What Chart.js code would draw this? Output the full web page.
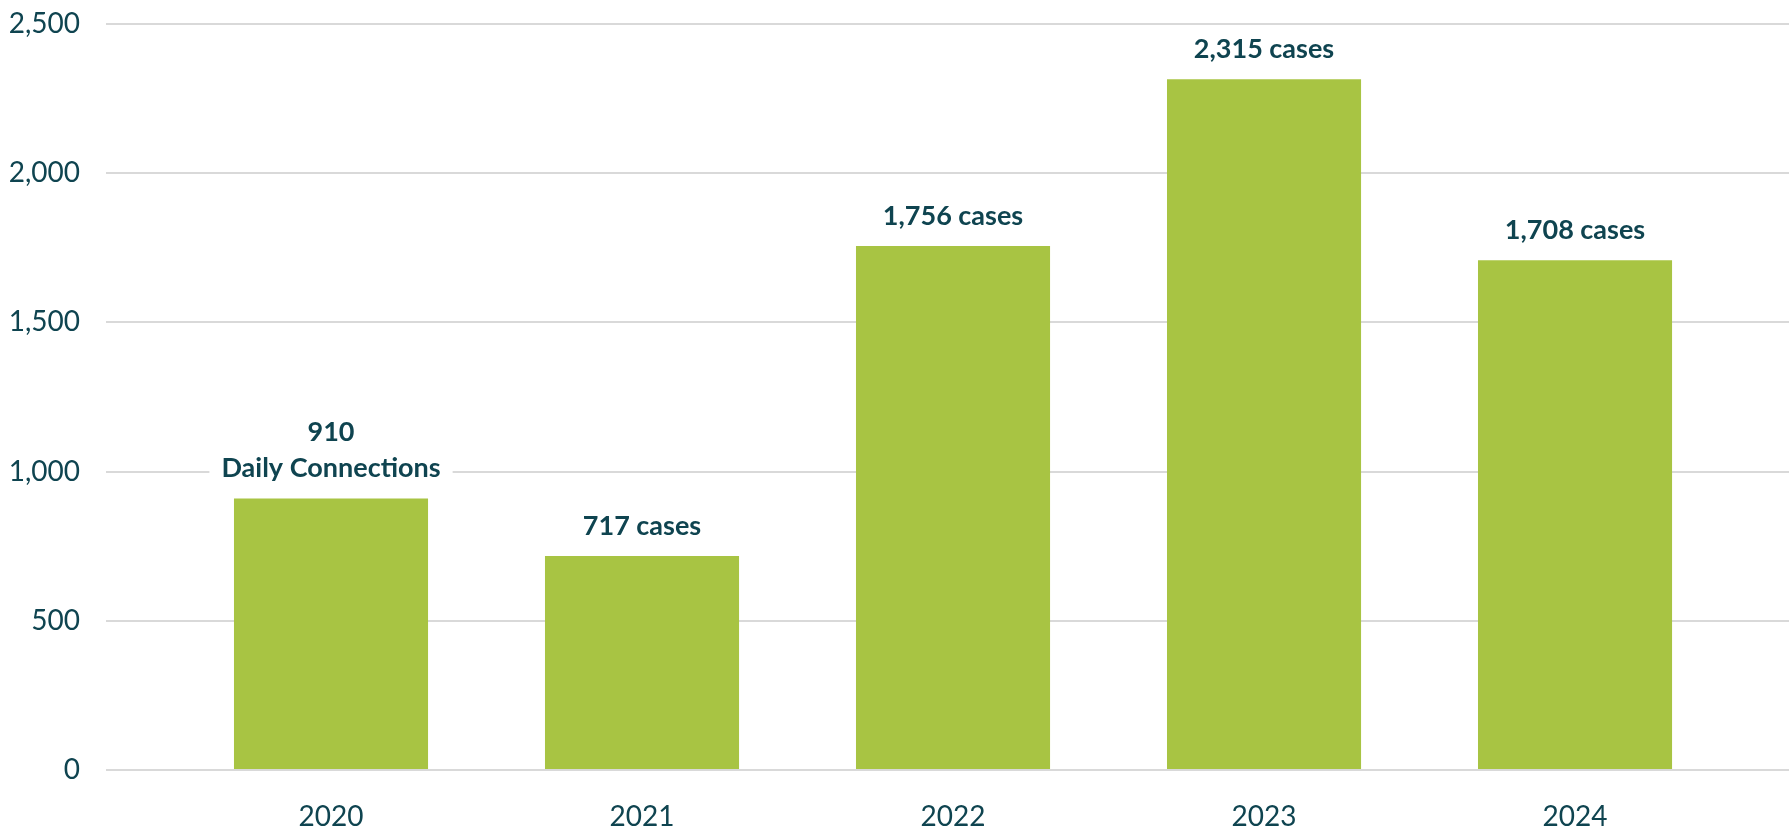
<!DOCTYPE html>
<html>
<head>
<meta charset="utf-8">
<script src="https://cdn.jsdelivr.net/npm/chart.js@4.4.1/dist/chart.umd.min.js"></script>
<style>
    html, body { margin: 0; padding: 0; background: #fff; }
    #wrap { width: 1790px; height: 832px; position: relative; }
</style>
</head>
<body>
<div id="wrap"><canvas id="casesChart"></canvas></div>
<script>
// chart data
const years = [2020, 2021, 2022, 2023, 2024];
const cases = [910, 717, 1756, 2315, 1708];
const yTicks = [0, 500, 1000, 1500, 2000, 2500];
const firstNote = 'Daily Connections';

const barColor = '#a8c443';
const inkColor = '#0f4450';

function fmt(v) {
    return v.toLocaleString('en-US');
}

// text above each bar, with a white box behind it
const barLabels = {
    id: 'barLabels',
    afterDatasetsDraw(chart) {
        const ctx = chart.ctx;
        const meta = chart.getDatasetMeta(0);
        ctx.save();
        ctx.font = 'bold 27px Lato';
        ctx.textAlign = 'center';
        ctx.textBaseline = 'alphabetic';
        meta.data.forEach(function (bar, i) {
            let lines = i === 0 ? [fmt(cases[i]), firstNote] : [fmt(cases[i]) + ' cases'];
            let lineH = 36;
            let base = bar.y - 21;
            let w = Math.max.apply(null, lines.map(l => ctx.measureText(l).width));
            let top = base - lineH * (lines.length - 1) - 26;
            ctx.fillStyle = '#ffffff';
            ctx.fillRect(bar.x - w / 2 - 12, top, w + 24, base - top + 8);
            ctx.fillStyle = inkColor;
            lines.forEach(function (l, k) {
                ctx.fillText(l, bar.x, base - lineH * (lines.length - 1 - k));
            });
        });
        ctx.restore();
    }
};

const ctx = document.getElementById('casesChart');
const chart = new Chart(ctx, {
    type: 'bar',
    data: {
        datasets: [{
            data: years.map((yr, i) => ({ x: yr, y: cases[i] })),
            backgroundColor: barColor,
            borderWidth: 0,
            categoryPercentage: 1,
            barPercentage: 0.624
        }]
    },
    options: {
        responsive: true,
        maintainAspectRatio: false,
        animation: false,
        layout: { padding: { top: 24, right: 1, left: 0, bottom: 0 } },
        plugins: {
            legend: { display: false },
            tooltip: { enabled: false }
        },
        scales: {
            x: {
                type: 'linear',
                offset: false,
                min: 2019.2765,
                max: 2024.688,
                grid: { display: false, drawTicks: false },
                border: { display: false },
                ticks: {
                    stepSize: 1,
                    includeBounds: false,
                    autoSkip: false,
                    maxRotation: 0,
                    padding: 30,
                    color: inkColor,
                    font: { family: 'Lato', size: 28 },
                    callback: (v) => String(v)
                },
                afterFit(scale) {
                    scale.height = 62;
                    scale.paddingLeft = 0;
                    scale.paddingRight = 0;
                }
            },
            y: {
                min: yTicks[0],
                max: yTicks[yTicks.length - 1],
                afterBuildTicks(scale) { scale.ticks = yTicks.map(v => ({ value: v })); },
                grid: { color: '#d9d9d9', lineWidth: 2, drawTicks: false },
                border: { display: false },
                ticks: {
                    padding: 26,
                    color: inkColor,
                    font: { family: 'Lato', size: 28 },
                    callback: (v) => fmt(v)
                },
                afterFit(scale) {
                    scale.width = 106;
                    scale.paddingTop = 0;
                    scale.paddingBottom = 0;
                }
            }
        }
    },
    plugins: [barLabels]
});
</script>
</body>
</html>
